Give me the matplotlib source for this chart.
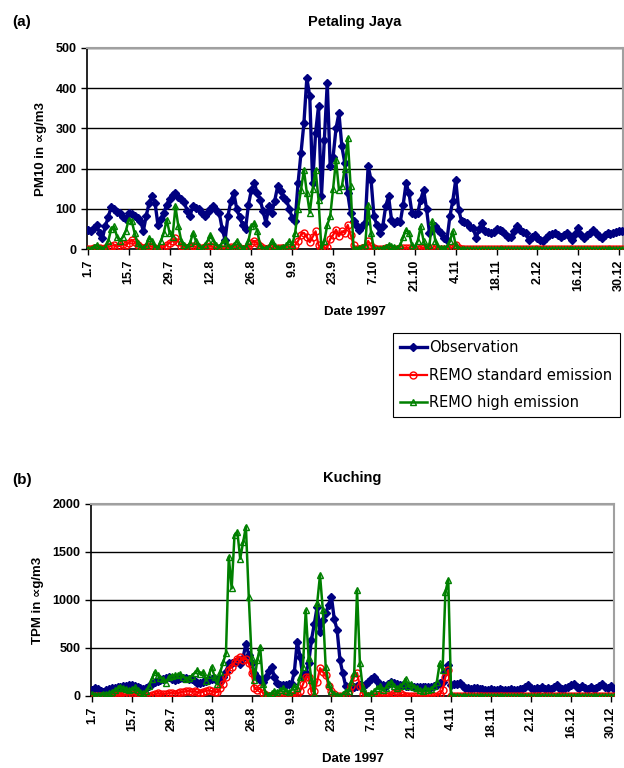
"""PM10 / TPM 1997 : observations vs REMO (Petaling Jaya, Kuching)."""

import matplotlib
matplotlib.use("Agg")
import matplotlib.pyplot as plt
import numpy as np

plt.rcParams["font.family"] = ["Liberation Sans", "DejaVu Sans"]

# dates: 1.7.1997 .. 31.12.1997, one value per day
tick_labels = ["1.7", "15.7", "29.7", "12.8", "26.8", "9.9", "23.9",
               "7.10", "21.10", "4.11", "18.11", "2.12", "16.12", "30.12"]

# (a) Petaling Jaya, PM10
obs_a = [
    48, 45, 52, 60, 40, 28, 57, 80, 105, 100, 92, 90, 80, 75,
    90, 88, 83, 78, 70, 45, 83, 115, 131, 115, 60, 75, 90, 110,
    125, 135, 139, 130, 125, 117, 95, 83, 107, 103, 99, 90, 83, 92,
    100, 107, 98, 90, 50, 23, 83, 120, 139, 99, 80, 60, 50, 110,
    147, 164, 140, 123, 94, 65, 106, 90, 120, 156, 145, 130, 123, 100,
    77, 70, 164, 239, 313, 425, 380, 164, 289, 355, 131, 270, 413, 206,
    230, 300, 338, 255, 214, 139, 90, 69, 60, 48, 58, 65, 206, 172,
    81, 60, 40, 56, 106, 131, 73, 65, 69, 67, 110, 164, 139, 90,
    88, 90, 123, 147, 100, 40, 50, 56, 48, 40, 27, 23, 81, 120,
    172, 98, 69, 67, 65, 55, 52, 27, 50, 65, 44, 42, 40, 42,
    50, 47, 44, 38, 31, 31, 45, 56, 48, 42, 40, 23, 30, 35,
    28, 22, 19, 28, 35, 38, 40, 35, 31, 35, 40, 30, 23, 38,
    52, 35, 27, 35, 40, 48, 40, 32, 27, 35, 40, 38, 40, 42,
    44, 45,
]
std_a = [
    0, 0, 2, 3, 2, 0, 3, 5, 8, 10, 6, 8, 12, 10,
    15, 23, 18, 10, 5, 2, 4, 8, 6, 2, 1, 3, 5, 10,
    15, 20, 27, 18, 8, 4, 3, 6, 8, 5, 3, 2, 4, 6,
    8, 5, 3, 2, 1, 0, 2, 4, 6, 3, 2, 1, 2, 5,
    15, 20, 15, 8, 3, 1, 3, 2, 1, 2, 3, 2, 1, 0,
    2, 10, 20, 36, 40, 30, 17, 30, 44, 10, 0, 2, 5, 25,
    35, 48, 32, 44, 40, 60, 36, 10, 0, 0, 2, 5, 20, 8,
    2, 0, 0, 1, 2, 3, 1, 0, 0, 0, 2, 3, 2, 1,
    0, 0, 2, 3, 1, 0, 2, 1, 0, 0, 0, 0, 2, 5,
    10, 3, 1, 0, 0, 0, 0, 0, 0, 0, 0, 0, 0, 0,
    0, 0, 0, 0, 0, 0, 0, 0, 0, 0, 0, 0, 0, 0,
    0, 0, 0, 0, 0, 0, 0, 0, 0, 0, 0, 0, 0, 0,
    0, 0, 0, 0, 0, 0, 0, 0, 0, 0, 0, 0, 0, 0,
    0, 0,
]
high_a = [
    0, 0, 5, 10, 3, 0, 5, 20, 50, 56, 30, 20, 30, 45,
    73, 70, 40, 15, 5, 2, 10, 28, 20, 5, 3, 20, 40, 73,
    40, 30, 106, 56, 20, 10, 5, 15, 40, 20, 8, 3, 10, 20,
    35, 20, 10, 5, 15, 25, 8, 3, 10, 20, 8, 3, 5, 20,
    56, 65, 45, 10, 0, 2, 5, 20, 8, 3, 2, 5, 10, 20,
    10, 40, 100, 147, 197, 140, 90, 150, 197, 123, 0, 20, 60, 81,
    150, 222, 147, 156, 200, 276, 156, 0, 0, 2, 5, 10, 110, 40,
    0, 0, 0, 2, 5, 10, 8, 5, 2, 10, 30, 48, 40, 10,
    5, 20, 56, 20, 0, 10, 69, 20, 5, 2, 3, 5, 20, 44,
    10, 0, 0, 0, 0, 0, 0, 0, 0, 0, 0, 0, 0, 0,
    0, 0, 0, 0, 0, 0, 0, 0, 0, 0, 0, 0, 0, 0,
    0, 0, 0, 0, 0, 0, 0, 0, 0, 0, 0, 0, 0, 0,
    0, 0, 0, 0, 0, 0, 0, 0, 0, 0, 0, 0, 0, 0,
    0, 0,
]

# (b) Kuching, TPM
obs_b = [
    62, 87, 70, 55, 45, 60, 75, 80, 85, 90, 95, 100, 108, 110,
    115, 100, 90, 80, 70, 85, 100, 120, 150, 160, 170, 175, 185, 200,
    180, 165, 175, 190, 188, 185, 180, 175, 160, 140, 132, 145, 155, 165,
    175, 180, 170, 150, 200, 252, 340, 345, 355, 360, 330, 400, 540, 430,
    340, 240, 200, 170, 150, 200, 260, 305, 200, 140, 110, 110, 115, 120,
    125, 252, 565, 410, 200, 235, 340, 585, 750, 930, 670, 790, 860, 950,
    1035, 800, 690, 375, 235, 105, 95, 90, 95, 105, 110, 105, 120, 150,
    180, 200, 160, 115, 110, 105, 120, 150, 132, 120, 115, 110, 100, 105,
    100, 95, 92, 90, 95, 90, 92, 90, 100, 115, 132, 150, 250, 320,
    110, 120, 125, 132, 100, 80, 85, 75, 80, 80, 70, 75, 65, 65,
    70, 60, 65, 70, 60, 65, 60, 70, 65, 60, 75, 70, 95, 110,
    80, 70, 85, 75, 90, 70, 85, 75, 90, 110, 80, 70, 85, 95,
    110, 130, 90, 80, 100, 80, 70, 90, 75, 85, 100, 130, 90, 80,
    100, 75,
]
std_b = [
    5, 0, 2, 5, 3, 0, 5, 8, 10, 8, 5, 10, 15, 20,
    25, 20, 10, 5, 3, 2, 5, 10, 20, 30, 25, 20, 25, 30,
    35, 25, 30, 40, 45, 50, 55, 45, 50, 40, 35, 45, 55, 60,
    50, 45, 40, 80, 130, 200, 270, 305, 350, 390, 410, 375, 390, 340,
    235, 80, 60, 80, 30, 10, 5, 2, 0, 3, 5, 2, 0, 3,
    5, 10, 20, 50, 120, 200, 200, 50, 50, 150, 290, 250, 220, 100,
    50, 20, 5, 2, 0, 10, 50, 100, 200, 240, 100, 20, 5, 3,
    0, 2, 5, 10, 5, 0, 2, 10, 30, 50, 30, 10, 5, 2,
    3, 5, 2, 0, 5, 2, 0, 3, 5, 5, 20, 60, 200, 270,
    0, 0, 0, 0, 0, 0, 0, 0, 0, 0, 0, 0, 0, 0,
    0, 0, 0, 0, 0, 0, 0, 0, 0, 0, 0, 0, 0, 0,
    0, 0, 0, 0, 0, 0, 0, 0, 0, 0, 0, 0, 0, 0,
    0, 0, 0, 0, 0, 0, 0, 0, 0, 0, 0, 0, 0, 0,
    0, 0,
]
high_b = [
    20, 15, 10, 15, 20, 25, 30, 45, 60, 80, 90, 85, 70, 60,
    75, 90, 60, 40, 30, 50, 100, 180, 250, 220, 190, 180, 140, 200,
    210, 215, 220, 230, 200, 180, 190, 210, 240, 270, 230, 250, 160, 220,
    305, 200, 120, 250, 350, 445, 1450, 1120, 1675, 1710, 1430, 1600, 1765, 1035,
    400, 170, 375, 515, 130, 20, 10, 30, 50, 40, 60, 80, 50, 40,
    60, 100, 80, 200, 300, 895, 400, 165, 20, 965, 1260, 895, 300, 130,
    50, 20, 10, 5, 20, 50, 50, 150, 235, 1100, 340, 80, 10, 10,
    30, 50, 80, 100, 60, 80, 120, 150, 100, 80, 100, 120, 180, 100,
    120, 90, 80, 60, 50, 80, 60, 70, 100, 150, 340, 270, 1085, 1210,
    20, 5, 0, 0, 0, 0, 0, 0, 0, 0, 0, 0, 0, 0,
    0, 0, 0, 0, 0, 0, 0, 0, 0, 0, 0, 0, 0, 0,
    0, 0, 0, 0, 0, 0, 0, 0, 0, 0, 0, 0, 0, 0,
    0, 0, 0, 0, 0, 0, 0, 0, 0, 0, 0, 0, 0, 0,
    0, 0,
]

NAVY = "#000080"
RED = "#ff0000"
GREEN = "#008000"
W, H = 624, 768


def draw_panel(ax, obs, std, high, ymax, ystep, title, ylabel):
    days = np.arange(len(obs))
    ax.plot(days, obs, color=NAVY, lw=2.4, marker="D", ms=4,
            mfc=NAVY, mec=NAVY, label="Observation", zorder=3)
    ax.plot(days, std, color=RED, lw=1.6, marker="o", ms=5, mfc="none",
            mec=RED, mew=1, label="REMO standard emission", zorder=4)
    ax.plot(days, high, color=GREEN, lw=1.8, marker="^", ms=5,
            mfc="none", mec=GREEN, mew=1, label="REMO high emission",
            zorder=5)

    ax.set_ylim(0, ymax)
    ax.set_yticks(np.arange(0, ymax + 1, ystep))
    ax.yaxis.grid(True, color="black", lw=1)
    ax.set_axisbelow(True)

    ticks = np.arange(0, 14 * len(tick_labels), 14)
    ax.set_xticks(ticks)
    ax.set_xticklabels(tick_labels, rotation=90)
    ax.tick_params(axis="both", labelsize=9, length=4, width=1,
                   direction="out", colors="black")
    for lab in ax.get_xticklabels() + ax.get_yticklabels():
        lab.set_fontweight("bold")

    for side in ("top", "right"):
        ax.spines[side].set_color("#a0a0a0")
        ax.spines[side].set_linewidth(1.5)
    for side in ("left", "bottom"):
        ax.spines[side].set_color("black")
        ax.spines[side].set_linewidth(1.2)

    ax.set_title(title, fontsize=10.5, fontweight="bold", pad=16)
    ax.set_ylabel(ylabel, fontsize=9.5, fontweight="bold", labelpad=6)
    ax.set_xlabel("Date 1997", fontsize=9.5, fontweight="bold",
                  labelpad=11)


fig = plt.figure(figsize=(W / 100, H / 100), dpi=100)

ax_a = fig.add_axes([87 / W, 1 - 249 / H, (623 - 87) / W, (249 - 48) / H])
draw_panel(ax_a, obs_a, std_a, high_a, 500, 100,
           "Petaling Jaya", "PM10 in ∝g/m3")
ax_a.set_xlim(-0.3, 183.3)

ax_b = fig.add_axes([91 / W, 1 - 696 / H, (614 - 91) / W, (696 - 504) / H])
draw_panel(ax_b, obs_b, std_b, high_b, 2000, 500,
           "Kuching", "TPM in ∝g/m3")
ax_b.set_xlim(-0.35, 183.15)

fig.text(12 / W, 1 - 22 / H, "(a)", fontsize=11, fontweight="bold",
         va="center", ha="left")
fig.text(12 / W, 1 - 480 / H, "(b)", fontsize=11, fontweight="bold",
         va="center", ha="left")

handles, labels = ax_a.get_legend_handles_labels()
leg = fig.legend(handles, labels, loc="upper left",
                 bbox_to_anchor=(393 / W, 1 - 333 / H),
                 prop={"family": "DejaVu Sans", "size": 10.5},
                 frameon=True, fancybox=False, edgecolor="black",
                 framealpha=1, borderpad=0.5, labelspacing=0.85,
                 handlelength=1.8, handletextpad=0.2, borderaxespad=0)
leg.get_frame().set_linewidth(0.8)

fig.savefig("out.png", dpi=100)
